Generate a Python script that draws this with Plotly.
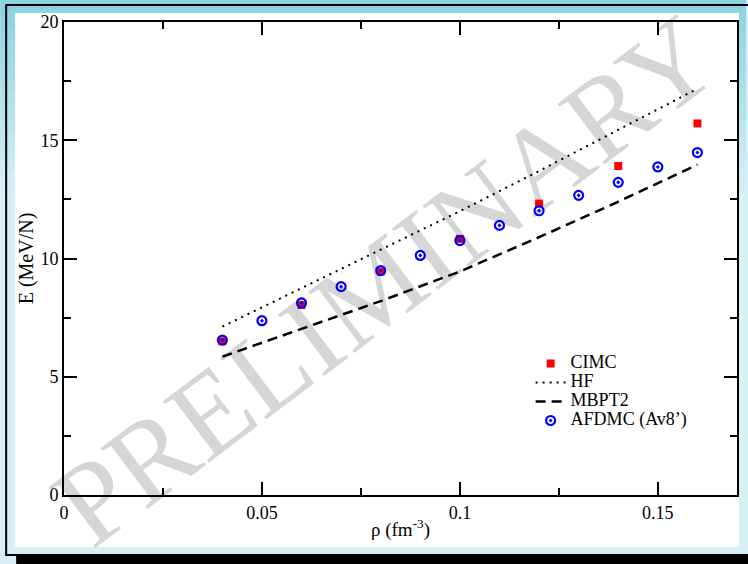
import plotly.graph_objects as go

# ---- data -------------------------------------------------------------
rho_afdmc = [0.04, 0.05, 0.06, 0.07, 0.08, 0.09, 0.10, 0.11, 0.12, 0.13, 0.14, 0.15, 0.16]
e_afdmc = [6.55, 7.37, 8.12, 8.81, 9.49, 10.13, 10.76, 11.40, 12.02, 12.67, 13.22, 13.87, 14.48]

rho_cimc = [0.04, 0.06, 0.08, 0.10, 0.12, 0.14, 0.16]
e_cimc = [6.50, 8.03, 9.45, 10.83, 12.32, 13.91, 15.71]

rho_theory = [0.04, 0.06, 0.08, 0.10, 0.12, 0.14, 0.16]
e_hf = [7.12, 8.75, 10.37, 12.00, 13.70, 15.45, 17.18]
e_mbpt2 = [5.85, 7.03, 8.20, 9.45, 10.90, 12.40, 13.97]

x_ticks = [0, 0.05, 0.1, 0.15]
y_ticks = [0, 5, 10, 15, 20]

# ---- page geometry (pixels) ------------------------------------------
W, H = 748, 564
L, R, T, B = 64, 9, 22, 69
PW, PH = W - L - R, H - T - B


def px(x):
    return (x - L) / PW


def py(y):
    return (H - B - y) / PH


SERIF = "Liberation Serif, Times New Roman, serif"


def entry(text):
    # legend rows stay compact while the label itself is drawn larger
    return '<span style="font-size:18px">%s</span>' % text


fig = go.Figure()

fig.add_trace(go.Scatter(
    x=rho_cimc, y=e_cimc, mode="markers", name=entry("CIMC"),
    marker=dict(symbol="square", size=8, color="#ff0000"),
))
fig.add_trace(go.Scatter(
    x=rho_theory, y=e_hf, mode="lines", name=entry("HF"),
    line=dict(color="black", width=2, dash="2px,5px"),
))
fig.add_trace(go.Scatter(
    x=rho_theory, y=e_mbpt2, mode="lines", name=entry("MBPT2"),
    line=dict(color="black", width=2.5, dash="10px,6px"),
))
fig.add_trace(go.Scatter(
    x=rho_afdmc, y=e_afdmc, mode="markers", name=entry("AFDMC (Av8’)"),
    marker=dict(symbol="circle-open-dot", size=9, color="#0000ff",
                line=dict(width=2.2, color="#0000ff")),
))

# ---- framed slide background -----------------------------------------
shapes = []
top_c = (140, 210, 224)
bot_c = (216, 239, 246)
n = 20
for i in range(n):
    f = i / (n - 1)
    c = tuple(round(a + (b - a) * f) for a, b in zip(top_c, bot_c))
    shapes.append(dict(type="rect", xref="paper", yref="paper", layer="below",
                       x0=px(0), x1=px(W), y0=py(i * 10), y1=py(i * 10 + 11),
                       fillcolor="rgb(%d,%d,%d)" % c, line=dict(width=0)))
# outer box border
shapes.append(dict(type="rect", xref="paper", yref="paper", layer="below",
                   x0=px(6), x1=px(W + 20), y0=py(5), y1=py(555),
                   fillcolor="rgba(0,0,0,0)", line=dict(color="black", width=2)))
# drop shadow along the bottom
shapes.append(dict(type="rect", xref="paper", yref="paper", layer="below",
                   x0=px(16), x1=px(W + 20), y0=py(555), y1=py(H + 20),
                   fillcolor="black", line=dict(width=0)))
# white panel holding the chart
shapes.append(dict(type="rect", xref="paper", yref="paper", layer="below",
                   x0=px(15), x1=px(741), y0=py(13), y1=py(547),
                   fillcolor="white", line=dict(width=0)))
# watermark
shapes.append(dict(type="rect", xref="paper", yref="paper", layer="below",
                   x0=px(368), x1=px(388), y0=py(260), y1=py(280),
                   fillcolor="rgba(0,0,0,0)", line=dict(width=0),
                   label=dict(text="PRELIMINARY", textangle=-37,
                              textposition="middle center",
                              font=dict(family=SERIF, size=117, color="#d6d6d6"))))

axis_common = dict(
    showline=True, linecolor="black", linewidth=2, mirror="ticks",
    ticks="inside", ticklen=13, tickwidth=1.5, tickcolor="black",
    showgrid=False, zeroline=False,
    tickfont=dict(family=SERIF, size=18, color="black"),
)

fig.update_layout(
    width=W, height=H,
    margin=dict(l=L, r=R, t=T, b=B, pad=0),
    paper_bgcolor="rgb(216,239,246)",
    plot_bgcolor="rgba(0,0,0,0)",
    shapes=shapes,
    showlegend=True,
    legend=dict(
        x=px(532), y=py(349), xanchor="left", yanchor="top",
        bgcolor="rgba(0,0,0,0)", borderwidth=0,
        font=dict(family=SERIF, size=11, color="black"),
        tracegroupgap=0, itemwidth=30,
    ),
    xaxis=dict(
        range=[0, 0.17], tickvals=x_ticks, ticktext=[str(v) for v in x_ticks],
        minor=dict(ticks="inside", dtick=0.025, tick0=0, ticklen=7,
                   tickwidth=1.5, tickcolor="black"),
        title=dict(text="ρ (fm<sup>-3</sup>)", standoff=1,
                   font=dict(family=SERIF, size=19, color="black")),
        **axis_common,
    ),
    yaxis=dict(
        range=[0, 20], tickvals=y_ticks,
        minor=dict(ticks="inside", dtick=2.5, tick0=0, ticklen=7,
                   tickwidth=1.5, tickcolor="black"),
        title=dict(text="E (MeV/N)", standoff=1,
                   font=dict(family=SERIF, size=20, color="black")),
        **axis_common,
    ),
)

fig.write_html("out.html")
